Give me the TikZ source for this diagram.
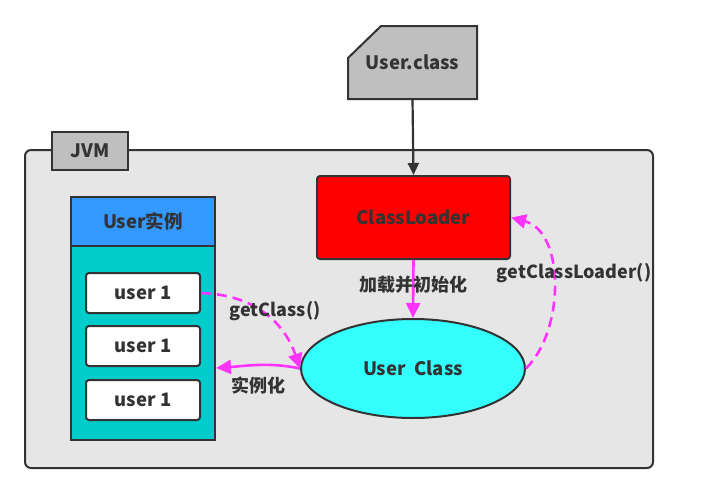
\documentclass[tikz,border=0pt]{standalone}
\usepackage{fontspec}
\setmainfont{Noto Sans CJK SC}
\usepackage{tikz}
\usetikzlibrary{shapes.geometric, arrows.meta}
\definecolor{txt}{HTML}{333333}
\definecolor{edge}{HTML}{333333}
\definecolor{jvmgray}{HTML}{E6E6E6}
\definecolor{tabgray}{HTML}{BFBFBF}
\definecolor{loadred}{HTML}{FF0000}
\definecolor{headblue}{HTML}{3399FF}
\definecolor{bodyteal}{HTML}{00CCCC}
\definecolor{classcyan}{HTML}{33FFFF}
\definecolor{pink}{HTML}{FF33FF}
\tikzstyle{box} = [draw=edge, line width=2pt, rounded corners=3pt, text=txt, font=\fontsize{18.5}{22}\selectfont\bfseries]
\tikzstyle{lbl} = [text=txt, font=\fontsize{18}{22}\selectfont\bfseries]
\tikzstyle{arrow} = [line width=2.6pt, -{Triangle[length=15pt,width=14pt]}]

\begin{document}
\begin{tikzpicture}[x=1pt, y=-1pt]
          \useasboundingbox (0,0) rectangle (709,493);
          % JVM frame
          \draw[draw=edge, line width=2pt, fill=jvmgray, rounded corners=6pt] (25,150) rectangle (653,468);
          \node[box, fill=tabgray, rounded corners=0pt, minimum width=76pt, minimum height=38pt] (jvm) at (90,151) {JVM};

          % User.class
          \draw[draw=edge, line width=2pt, fill=tabgray] (348,99) -- (348,58) -- (381,26) -- (477,26) -- (477,99) -- cycle;
          \node[lbl, font=\fontsize{18.5}{22}\selectfont\bfseries, minimum width=129pt, minimum height=73pt] (cls) at (412.5,62.5) {User.class};

          % Node positions
          \node[box, fill=loadred, minimum width=193pt, minimum height=83pt] (loader) at (413.5,217.5) {ClassLoader};
          \node[box, ellipse, fill=classcyan, minimum width=224pt, minimum height=99pt, inner sep=0pt] (uclass) at (413,368.5) {User~~Class};

          \node[box, fill=bodyteal, rounded corners=0pt, minimum width=144pt, minimum height=194pt] (body) at (143,343) {};
          \node[box, fill=headblue, rounded corners=0pt, minimum width=144pt, minimum height=49pt] (head) at (143,221.5) {User实例};
          \node[box, fill=white, minimum width=114pt, minimum height=40pt] (u1) at (143,293) {user 1};
          \node[box, fill=white, minimum width=114pt, minimum height=40pt] (u2) at (143,346) {user 1};
          \node[box, fill=white, minimum width=114pt, minimum height=40pt] (u3) at (143,400) {user 1};

          % Edges
          \draw[draw=edge, line width=2.2pt, -{Triangle[length=12pt,width=11pt]}] (cls.south) -- (loader.north);
          \draw[arrow, draw=pink] (loader.south) -- (uclass.north);
          \draw[arrow, draw=pink, dash pattern=on 10pt off 6pt] (uclass.east) .. controls (565,330) and (565,232) .. (loader.east);
          \draw[arrow, draw=pink, dash pattern=on 10pt off 6pt] (u1.east) .. controls (262,295) and (287,330) .. (uclass.west);
          \draw[arrow, draw=pink] (uclass.west) .. controls (270,362) and (245,366) .. (body.east |- 0,368);

          % Labels
          \node[lbl] (l1) at (413,285) {加载并初始化};
          \node[lbl] (l2) at (574,273) {getClassLoader()};
          \node[lbl] (l3) at (275,311) {getClass()};
          \node[lbl] (l4) at (258,386) {实例化};

        \end{tikzpicture}
\end{document}
